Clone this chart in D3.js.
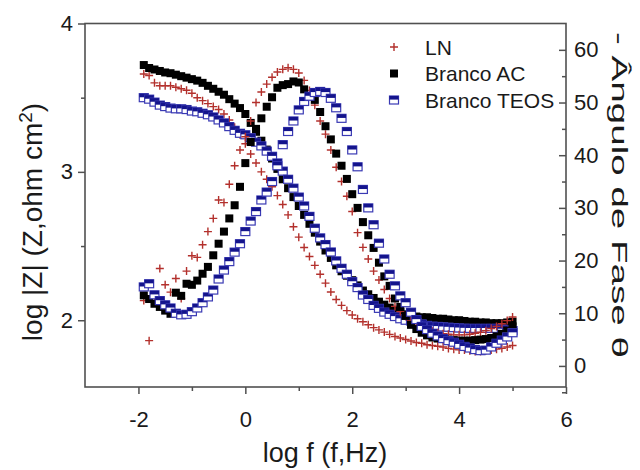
<!DOCTYPE html>
<html>
<head>
<meta charset="utf-8">
<script src="https://cdn.jsdelivr.net/npm/d3@7"></script>
<style>
  body { margin: 0; background: #fff; }
  text { font-family: 'Liberation Sans', Arial, sans-serif; fill: #1a1a1a; }
</style>
</head>
<body>
<svg id="chart" width="640" height="470"></svg>
<script>
// log f values (Hz), 10 points per decade
const logF = [
  -1.9, -1.8, -1.7, -1.6, -1.5, -1.4, -1.3, -1.2, -1.1, -1.0,
  -0.9, -0.8, -0.7, -0.6, -0.5, -0.4, -0.3, -0.2, -0.1, 0.0,
  0.1, 0.2, 0.3, 0.4, 0.5, 0.6, 0.7, 0.8, 0.9, 1.0,
  1.1, 1.2, 1.3, 1.4, 1.5, 1.6, 1.7, 1.8, 1.9, 2.0,
  2.1, 2.2, 2.3, 2.4, 2.5, 2.6, 2.7, 2.8, 2.9, 3.0,
  3.1, 3.2, 3.3, 3.4, 3.5, 3.6, 3.7, 3.8, 3.9, 4.0,
  4.1, 4.2, 4.3, 4.4, 4.5, 4.6, 4.7, 4.8, 4.9, 5.0
];

// LN
const lnMag = [
  3.66, 3.65, 3.60, 3.58, 3.58, 3.58, 3.57, 3.56, 3.55, 3.53,
  3.50, 3.48, 3.46, 3.44, 3.42, 3.39, 3.35, 3.30, 3.25, 3.19,
  3.12, 3.06, 3.00, 2.95, 2.90, 2.84, 2.78, 2.71, 2.63, 2.56,
  2.49, 2.43, 2.37, 2.31, 2.25, 2.19, 2.14, 2.10, 2.065, 2.035,
  2.01, 1.99, 1.97, 1.95, 1.935, 1.92, 1.905, 1.89, 1.88, 1.87,
  1.86, 1.85, 1.845, 1.835, 1.83, 1.825, 1.82, 1.81, 1.805, 1.80,
  1.80, 1.795, 1.79, 1.79, 1.795, 1.80, 1.805, 1.81, 1.82, 1.83
];
const lnPhase = [
  12.4, 4.8, 13.0, 18.5, 15.4, 14.0, 16.6, 12.8, 18.0, 20.9,
  20.6, 23.0, 25.5, 28.0, 31.5, 31.0, 34.5, 38.0, 41.0, 43.5,
  46.5, 50.0, 52.0, 53.5, 54.8, 55.8, 56.3, 56.6, 56.3, 55.6,
  54.2, 52.3, 49.5, 46.5, 44.0, 41.0, 37.7, 35.0, 32.2, 29.3,
  25.3, 22.5, 20.3, 18.0, 16.3, 14.5, 12.8, 11.3, 10.3, 9.4,
  8.6, 8.0, 7.4, 7.0, 6.6, 6.3, 6.1, 6.0, 5.9, 5.9,
  5.9, 6.0, 6.2, 6.4, 6.7, 7.1, 7.5, 8.0, 8.6, 9.3
];

// Branco AC
const acMag = [
  3.72, 3.70, 3.69, 3.68, 3.67, 3.665, 3.655, 3.645, 3.635, 3.625,
  3.615, 3.60, 3.58, 3.56, 3.54, 3.52, 3.49, 3.46, 3.43, 3.39,
  3.33, 3.27, 3.21, 3.15, 3.09, 3.02, 2.95, 2.89, 2.83, 2.77,
  2.71, 2.65, 2.59, 2.53, 2.47, 2.42, 2.37, 2.33, 2.30, 2.27,
  2.235, 2.20, 2.175, 2.15, 2.125, 2.105, 2.085, 2.07, 2.055, 2.04,
  2.03, 2.025, 2.02, 2.02, 2.015, 2.01, 2.01, 2.005, 2.0, 2.0,
  1.995, 1.99, 1.99, 1.985, 1.985, 1.98, 1.98, 1.98, 1.985, 1.99
];
const acPhase = [
  13.4, 12.7, 11.8, 11.2, 10.5, 9.9, 13.9, 13.3, 15.6, 15.4,
  16.2, 17.5, 18.8, 21.0, 23.2, 25.5, 28.0, 30.5, 34.0, 38.5,
  42.5, 45.0, 47.0, 49.2, 51.0, 52.8, 53.3, 53.5, 54.0, 53.8,
  52.5, 51.2, 50.5, 48.2, 45.5, 43.0, 40.3, 38.0, 35.5, 32.6,
  30.0, 27.3, 24.8, 22.4, 19.6, 17.0, 15.2, 12.8, 11.2, 9.5,
  7.8, 7.0, 6.3, 5.8, 5.4, 5.2, 5.1, 5.0, 4.9, 4.8,
  4.8, 4.8, 4.9, 5.0, 5.1, 5.3, 5.6, 6.1, 6.7, 7.5
];

// Branco TEOS
const teosMag = [
  3.50, 3.49, 3.47, 3.45, 3.44, 3.43, 3.425, 3.425, 3.42, 3.41,
  3.405, 3.395, 3.385, 3.37, 3.35, 3.33, 3.305, 3.28, 3.26, 3.25,
  3.23, 3.20, 3.175, 3.14, 3.105, 3.06, 3.005, 2.95, 2.89, 2.83,
  2.77, 2.70, 2.62, 2.555, 2.51, 2.46, 2.40, 2.35, 2.31, 2.26,
  2.22, 2.17, 2.14, 2.10, 2.08, 2.055, 2.04, 2.025, 2.01, 2.0,
  1.995, 1.985, 1.975, 1.965, 1.96, 1.958, 1.955, 1.953, 1.95, 1.948,
  1.946, 1.945, 1.945, 1.945, 1.945, 1.945, 1.945, 1.94, 1.935, 1.93
];
const teosPhase = [
  15.0, 15.6, 13.5, 12.4, 11.6, 11.0, 10.0, 9.7, 9.8, 10.3,
  11.0, 12.0, 13.1, 14.4, 16.5, 18.2, 19.8, 21.6, 23.2, 25.5,
  27.5, 29.3, 31.5, 33.0, 35.0, 38.0, 42.0, 44.5, 46.5, 48.6,
  50.2, 51.2, 51.9, 52.1, 51.9, 50.8, 49.0, 47.0, 44.5, 41.0,
  37.8, 33.5, 30.0, 26.8, 23.3, 20.3, 17.4, 15.2, 13.3, 12.0,
  10.2, 8.8, 7.5, 6.9, 6.2, 5.7, 5.2, 4.8, 4.5, 4.1,
  3.7, 3.4, 3.1, 2.9, 3.0, 3.6, 4.3, 4.9, 5.5, 6.3
];

const xTicks = [-2, 0, 2, 4, 6];
const xMinor = [-1, 1, 3, 5];
const zTicks = [2, 3, 4];
const zMinor = [2.5, 3.5];
const phTicks = [0, 10, 20, 30, 40, 50, 60];
const phMinor = [-5, 5, 15, 25, 35, 45, 55];
const seriesNames = ['LN', 'Branco AC', 'Branco TEOS'];

const svg = d3.select('#chart');
const plotLeft = 85, plotRight = 566, plotTop = 23.5, plotBottom = 387;
const axisColor = '#505050';
const plain = d => String(d);

const x = d3.scaleLinear().domain([-3, 6]).range([plotLeft, plotRight]);
const yZ = d3.scaleLinear().domain([1.55, 4]).range([plotBottom, plotTop]);
const yPh = d3.scaleLinear().domain([-4, 65]).range([plotBottom, plotTop]);

// frame
svg.append('rect')
  .attr('x', plotLeft).attr('y', plotTop)
  .attr('width', plotRight - plotLeft).attr('height', plotBottom - plotTop)
  .attr('fill', 'none').attr('stroke', axisColor).attr('stroke-width', 1.6);

function styleAxis(g, size) {
  g.select('.domain').remove();
  g.selectAll('line').attr('stroke', axisColor).attr('stroke-width', 1.5);
  g.selectAll('text').attr('font-size', size).attr('font-family', null).attr('fill', '#1a1a1a');
}

// bottom axis
svg.append('g').attr('transform', `translate(0,${plotBottom})`)
  .call(d3.axisBottom(x).tickValues(xTicks).tickSize(7).tickPadding(17).tickFormat(plain))
  .call(g => styleAxis(g, 22));
svg.append('g').attr('transform', `translate(0,${plotBottom})`)
  .call(d3.axisBottom(x).tickValues(xMinor).tickSize(4).tickFormat(''))
  .call(g => styleAxis(g, 22));

// left axis
svg.append('g').attr('transform', `translate(${plotLeft},0)`)
  .call(d3.axisLeft(yZ).tickValues(zTicks).tickSize(7).tickPadding(5).tickFormat(plain))
  .call(g => styleAxis(g, 22));
svg.append('g').attr('transform', `translate(${plotLeft},0)`)
  .call(d3.axisLeft(yZ).tickValues(zMinor).tickSize(4).tickFormat(''))
  .call(g => styleAxis(g, 22));

// right axis, ticks pointing inward
svg.append('g').attr('transform', `translate(${plotRight},0)`)
  .call(d3.axisRight(yPh).tickValues(phTicks).tickSize(-7).tickPadding(8).tickFormat(plain))
  .call(g => styleAxis(g, 22));
svg.append('g').attr('transform', `translate(${plotRight},0)`)
  .call(d3.axisRight(yPh).tickValues(phMinor).tickSize(-4).tickFormat(''))
  .call(g => styleAxis(g, 22));

// markers
function plus(g, color) {
  g.append('path').attr('d', 'M-4,0H4M0,-4V4')
    .attr('stroke', color).attr('stroke-width', 1.4).attr('fill', 'none');
}
function blackSquare(g) {
  g.append('rect').attr('x', -4).attr('y', -4).attr('width', 8).attr('height', 8).attr('fill', '#000');
}
function halfSquare(g) {
  g.append('rect').attr('x', -4.5).attr('y', -4).attr('width', 9).attr('height', 8)
    .attr('fill', '#fff').attr('stroke', '#3a3ab4').attr('stroke-width', 1.2);
  g.append('rect').attr('x', -4.5).attr('y', -4).attr('width', 9).attr('height', 3.6).attr('fill', '#14148c');
}

const drawers = [g => plus(g, '#b3302c'), blackSquare, halfSquare];

function drawSeries(values, yScale, draw, cls) {
  svg.append('g').attr('class', cls)
    .selectAll('g')
    .data(values)
    .join('g')
    .attr('transform', (d, i) => `translate(${x(logF[i])},${yScale(d)})`)
    .each(function () { draw(d3.select(this)); });
}

// magnitudes first, phases drawn on top
drawSeries(lnMag, yZ, drawers[0], 'ln-mag');
drawSeries(acMag, yZ, drawers[1], 'ac-mag');
drawSeries(teosMag, yZ, drawers[2], 'teos-mag');
drawSeries(lnPhase, yPh, drawers[0], 'ln-phase');
drawSeries(acPhase, yPh, drawers[1], 'ac-phase');
drawSeries(teosPhase, yPh, drawers[2], 'teos-phase');

// legend
const legend = svg.append('g').attr('transform', 'translate(394,47)');
seriesNames.forEach((name, i) => {
  const row = legend.append('g').attr('transform', `translate(0,${i * 26.5})`);
  drawers[i](row);
  row.append('text').attr('x', 31).attr('dy', '0.36em').attr('font-size', 21).text(name);
});

// axis titles
svg.append('text')
  .attr('x', 325).attr('y', 462)
  .attr('text-anchor', 'middle').attr('font-size', 27)
  .text('log f (f,Hz)');

const zTitle = svg.append('text')
  .attr('transform', 'translate(42,222) rotate(-90)')
  .attr('text-anchor', 'middle').attr('font-size', 28);
zTitle.append('tspan').text('log |Z| (Z,ohm cm');
zTitle.append('tspan').attr('baseline-shift', 'super').attr('font-size', 19).text('2');
zTitle.append('tspan').text(')');

svg.append('text')
  .attr('transform', 'translate(612,195) rotate(90)')
  .attr('text-anchor', 'middle').attr('font-size', 22)
  .attr('textLength', 326).attr('lengthAdjust', 'spacingAndGlyphs')
  .text('- Ângulo de Fase θ');
</script>
</body>
</html>
